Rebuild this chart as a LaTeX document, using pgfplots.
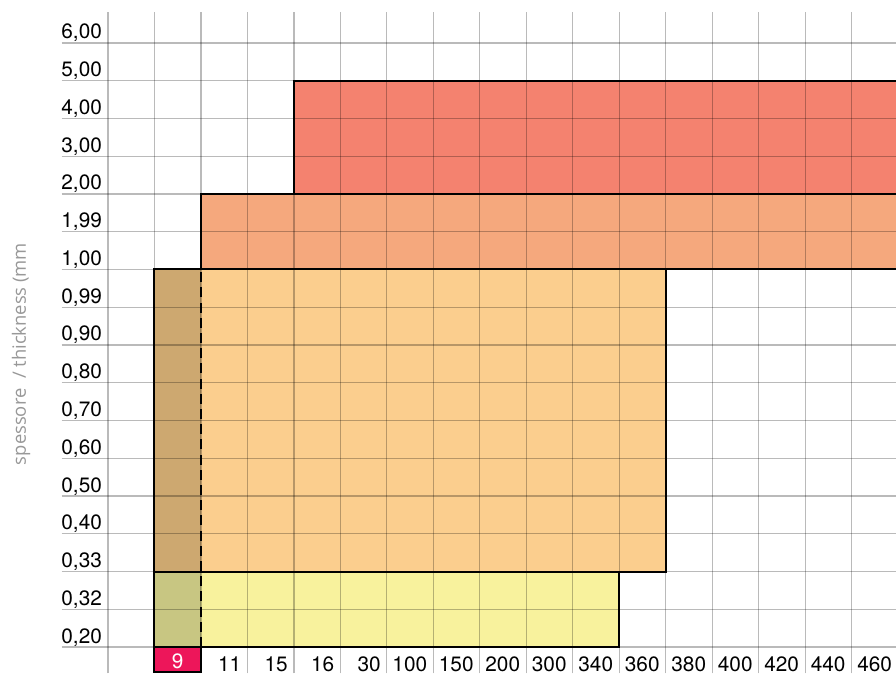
\documentclass[border=0pt]{standalone}
\usepackage{fontspec}
\setmainfont{TeX Gyre Heros}
\newfontfamily\labelfont{Open Sans}
\usepackage{pgfplots}
\pgfplotsset{compat=1.18}
\usetikzlibrary{calc}
\definecolor{cRed}{HTML}{F4826F}
\definecolor{cOrange}{HTML}{F5A87D}
\definecolor{cLight}{HTML}{FBCE8E}
\definecolor{cBrown}{HTML}{CDA870}
\definecolor{cYellow}{HTML}{F8F29D}
\definecolor{cOlive}{HTML}{C8C682}
\definecolor{cPink}{HTML}{ED165A}
\definecolor{cLabel}{HTML}{989898}
\begin{document}
\begin{tikzpicture}
\begin{axis}[
  scale only axis, width=417.2pt, height=330.7pt,
  xmin=-1, xmax=16.95, ymin=-0.7, ymax=16.82,
  axis line style={draw=none},
  major tick length=0pt,
  xtick={0,...,16}, ytick={0,...,16},
  xticklabels={,,11,15,16,30,100,150,200,300,340,360,380,400,420,440,460},
  yticklabels={{0,20},{0,32},{0,33},{0,40},{0,50},{0,60},{0,70},{0,80},{0,90},{0,99},{1,00},{1,99},{2,00},{3,00},{4,00},{5,00},{6,00}},
  grid=major,
  major grid style={black, opacity=0.27, line width=0.55pt},
  axis on top,
  tick label style={font=\fontsize{10.4}{12}\selectfont, inner sep=0pt},
  yticklabel style={anchor=base east, xshift=20.4pt, yshift=2pt},
  xticklabel style={anchor=base east, xshift=20.3pt, yshift=1.2pt},
  ylabel={spessore\ \ / thickness (mm},
  ylabel style={at={(axis description cs:-0.0485,0.483)}, anchor=center, font=\labelfont\fontsize{9.2}{11}\selectfont, text=cLabel},
]
% red band
\addplot[fill=cRed, draw=black, line width=1pt] coordinates {(4,12) (18,12) (18,15) (4,15)} -- cycle;
% orange band
\addplot[fill=cOrange, draw=black, line width=1pt] coordinates {(2,10) (18,10) (18,12) (2,12)} -- cycle;
% light orange + brown
\addplot[fill=cLight, draw=none] coordinates {(2,2) (12,2) (12,10) (2,10)} -- cycle;
\addplot[fill=cBrown, draw=none] coordinates {(1,2) (2,2) (2,10) (1,10)} -- cycle;
\addplot[draw=black, line width=1pt] coordinates {(1,2) (12,2) (12,10) (1,10)} -- cycle;
% yellow + olive
\addplot[fill=cYellow, draw=none] coordinates {(2,0) (11,0) (11,2) (2,2)} -- cycle;
\addplot[fill=cOlive, draw=none] coordinates {(1,0) (2,0) (2,2) (1,2)} -- cycle;
\addplot[draw=black, line width=1pt] coordinates {(1,0) (11,0) (11,2) (1,2)} -- cycle;
% dashed divider
\addplot[draw=black, line width=1pt, dash pattern=on 5pt off 2.6pt] coordinates {(2,0) (2,10)};
% pink box
\addplot[fill=cPink, draw=black, line width=1pt] coordinates {(1,-0.67) (2,-0.67) (2,0) (1,0)} -- cycle;
\node[anchor=base, text=white, font=\fontsize{10.4}{12}\selectfont, inner sep=0pt] at (axis cs:1.5,-0.56) {9};
\end{axis}
\pgfresetboundingbox
\path[use as bounding box] ($(current axis.south west)+(-30.75pt,-0.8pt)$) rectangle ($(current axis.north east)+(0,6pt)$);
\end{tikzpicture}
\end{document}
